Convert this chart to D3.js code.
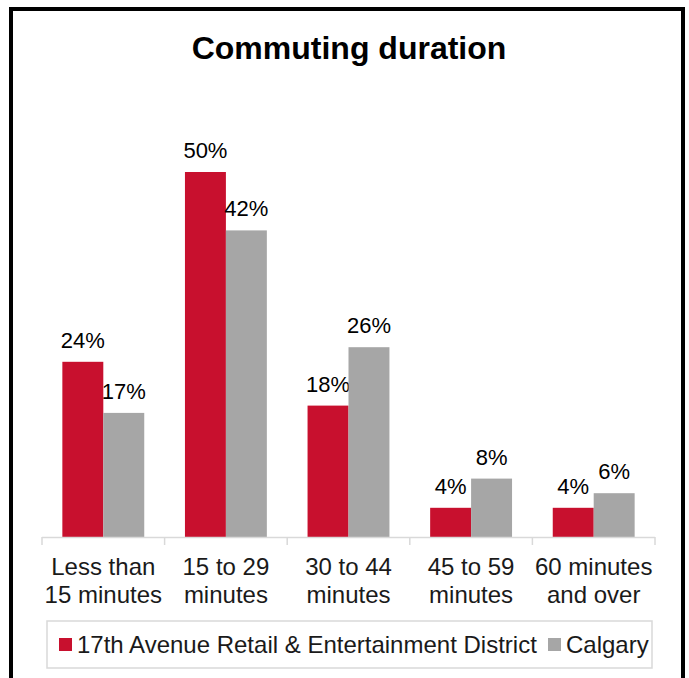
<!DOCTYPE html>
<html><head><meta charset="utf-8">
<script src="https://cdn.jsdelivr.net/npm/d3@7"></script>
<style>body{margin:0;background:#fff}svg{display:block;font-family:"Liberation Sans",Arial,sans-serif}</style>
</head><body><svg id="c" width="689" height="678"></svg>
<script>
const categories = [["Less than","15 minutes"],["15 to 29","minutes"],["30 to 44","minutes"],["45 to 59","minutes"],["60 minutes","and over"]];
const seriesNames = ["17th Avenue Retail & Entertainment District","Calgary"];
const district = [24, 50, 18, 4, 4];
const calgary = [17, 42, 26, 8, 6];
const colors = ["#C8102E","#A6A6A6"];

const svg = d3.select("#c");
svg.append("rect").attr("x",11).attr("y",9).attr("width",672).attr("height",700)
  .attr("fill","#fff").attr("stroke","#000").attr("stroke-width",4);
svg.append("text").attr("x",349).attr("y",59).attr("text-anchor","middle")
  .attr("font-size",32).attr("font-weight","bold").text("Commuting duration");

const x0 = d3.scaleBand().domain(d3.range(categories.length)).range([42,655]).paddingInner(0).paddingOuter(0);
const inner = 0.166;
const x1 = d3.scaleBand().domain([0,1]).range([x0.bandwidth()*inner, x0.bandwidth()*(1-inner)]);
const y = d3.scaleLinear().domain([0,50]).range([537,172]);

const series = [district, calgary];
const g = svg.append("g");
series.forEach((vals,si)=>{
  g.selectAll(".b"+si).data(vals).join("rect")
    .attr("x",(d,i)=>x0(i)+x1(si)).attr("y",d=>y(d))
    .attr("width",x1.bandwidth()).attr("height",d=>y(0)-y(d)).attr("fill",colors[si]);
  g.selectAll(".l"+si).data(vals).join("text")
    .attr("x",(d,i)=>x0(i)+x1(si)+x1.bandwidth()/2).attr("y",d=>y(d)-14)
    .attr("text-anchor","middle").attr("font-size",22).attr("fill","#000").text(d=>d+"%");
});

// axis
const ax = svg.append("g");
ax.append("line").attr("x1",42).attr("x2",655).attr("y1",537.5).attr("y2",537.5).attr("stroke","#d9d9d9").attr("stroke-width",1.5);
d3.range(categories.length+1).forEach(i=>{
  const xx = 42 + i*x0.bandwidth();
  ax.append("line").attr("x1",xx).attr("x2",xx).attr("y1",537).attr("y2",545).attr("stroke","#d9d9d9").attr("stroke-width",1.5);
});
categories.forEach((c,i)=>{
  const t = ax.append("text").attr("x",x0(i)+x0.bandwidth()/2).attr("text-anchor","middle").attr("font-size",24).attr("fill","#1a1a1a");
  c.forEach((line,k)=>t.append("tspan").attr("x",x0(i)+x0.bandwidth()/2).attr("y",575+k*28).text(line));
});

// legend
const lg = svg.append("g");
lg.append("rect").attr("x",47).attr("y",621).attr("width",605).attr("height",47).attr("fill","#fff").attr("stroke","#d9d9d9").attr("stroke-width",1.5);
const items = [{x:59,name:seriesNames[0],c:colors[0]},{x:548,name:seriesNames[1],c:colors[1]}];
items.forEach(it=>{
  lg.append("rect").attr("x",it.x).attr("y",638).attr("width",13).attr("height",13).attr("fill",it.c);
  lg.append("text").attr("x",it.x+18).attr("y",653).attr("font-size",24).attr("fill","#1a1a1a").text(it.name);
});
</script></body></html>
